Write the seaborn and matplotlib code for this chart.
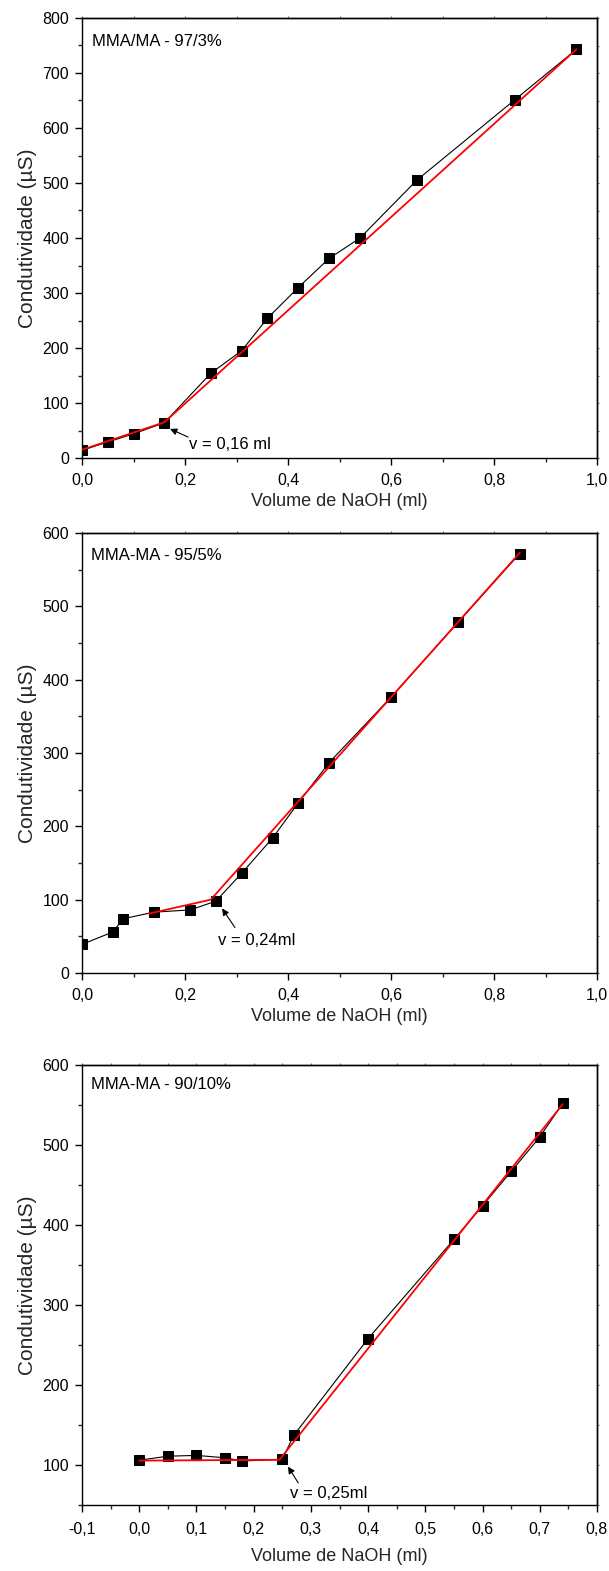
import matplotlib
matplotlib.use("Agg")
import matplotlib.pyplot as plt
import numpy as np
import pandas as pd
import seaborn as sns
from matplotlib.ticker import MultipleLocator, FuncFormatter

# ---------------- data ----------------
# Panel 1: MMA/MA - 97/3%
p1_x = [0.0, 0.05, 0.10, 0.16, 0.25, 0.31, 0.36, 0.42, 0.48, 0.54, 0.65, 0.84, 0.96]
p1_y = [14, 29, 44, 64, 154, 195, 254, 310, 363, 400, 505, 651, 743]
p1_fit_x = [0.0, 0.16, 0.96]
p1_fit_y = [15, 65, 743]

# Panel 2: MMA-MA - 95/5%
p2_x = [0.0, 0.06, 0.08, 0.14, 0.21, 0.26, 0.31, 0.37, 0.42, 0.48, 0.60, 0.73, 0.85]
p2_y = [39, 56, 74, 83, 86, 98, 136, 184, 232, 287, 376, 478, 572]
p2_fit_x = [0.13, 0.25, 0.85]
p2_fit_y = [81, 100, 573]

# Panel 3: MMA-MA - 90/10%
p3_x = [0.0, 0.05, 0.10, 0.15, 0.18, 0.25, 0.27, 0.40, 0.55, 0.60, 0.65, 0.70, 0.74]
p3_y = [106, 111, 112, 109, 105, 107, 137, 258, 382, 424, 467, 510, 552]
p3_fit_x = [0.0, 0.245, 0.74]
p3_fit_y = [105.5, 106.5, 551]

titles = ["MMA/MA - 97/3%", "MMA-MA - 95/5%", "MMA-MA - 90/10%"]
notes = ["v = 0,16 ml", "v = 0,24ml", "v = 0,25ml"]
xlabel = "Volume de NaOH (ml)"
ylabel = "Condutividade (µS)"

# ---------------- style ----------------
sns.set_style("ticks")
plt.rcParams["font.family"] = ["Liberation Sans", "DejaVu Sans"]
plt.rcParams["axes.linewidth"] = 1.0

W, H = 609, 1571
fig = plt.figure(figsize=(W / 100, H / 100), dpi=100)

left_px, right_px = 82, 597
panels = [
    dict(x=p1_x, y=p1_y, fx=p1_fit_x, fy=p1_fit_y, top=18, bot=458,
         xlim=(0, 1.0), xmaj=0.2, xmin=0.1, ylim=(0, 800), ymaj=100, ymin=50,
         title=titles[0], tpos=(0.019, 757), note=notes[0], npos=(0.208, 24),
         atail=(0.206, 38), ahead=(0.171, 53), xl_y=-0.0795, xpad=5.5),
    dict(x=p2_x, y=p2_y, fx=p2_fit_x, fy=p2_fit_y, top=533, bot=973,
         xlim=(0, 1.0), xmaj=0.2, xmin=0.1, ylim=(0, 600), ymaj=100, ymin=50,
         title=titles[1], tpos=(0.017, 570), note=notes[1], npos=(0.264, 44),
         atail=(0.297, 62), ahead=(0.272, 88), xl_y=-0.0795, xpad=5.5),
    dict(x=p3_x, y=p3_y, fx=p3_fit_x, fy=p3_fit_y, top=1065, bot=1505,
         xlim=(-0.1, 0.8), xmaj=0.1, xmin=0.05, ylim=(50, 600), ymaj=100, ymin=50,
         title=titles[2], tpos=(-0.085, 576), note=notes[2], npos=(0.263, 64),
         atail=(0.278, 77.5), ahead=(0.26, 98), xl_y=-0.0977, xpad=7.0),
]


def comma_fmt(v, pos):
    if abs(v) < 1e-9:
        v = 0.0
    return f"{v:.1f}".replace(".", ",")


for p in panels:
    ax = fig.add_axes([left_px / W, 1 - p["bot"] / H,
                       (right_px - left_px) / W, (p["bot"] - p["top"]) / H])
    df = pd.DataFrame({"x": p["x"], "y": p["y"]})
    fit = pd.DataFrame({"x": p["fx"], "y": p["fy"]})
    sns.lineplot(data=df, x="x", y="y", ax=ax, sort=False, estimator=None,
                 color="black", linewidth=0.8, marker="s", markersize=7,
                 markeredgecolor="black", markerfacecolor="black", zorder=3)
    sns.lineplot(data=fit, x="x", y="y", ax=ax, sort=False, estimator=None,
                 color="#ff0000", linewidth=1.3, zorder=4)

    ax.set_xlim(*p["xlim"])
    ax.set_ylim(*p["ylim"])
    ax.xaxis.set_major_locator(MultipleLocator(p["xmaj"]))
    ax.xaxis.set_minor_locator(MultipleLocator(p["xmin"]))
    ax.yaxis.set_major_locator(MultipleLocator(p["ymaj"]))
    ax.yaxis.set_minor_locator(MultipleLocator(p["ymin"]))
    ax.xaxis.set_major_formatter(FuncFormatter(comma_fmt))
    ax.yaxis.set_major_formatter(FuncFormatter(lambda v, pos: f"{int(round(v))}"))

    ax.tick_params(axis="both", which="major", direction="out", length=5,
                   width=1.0, labelsize=11.5, colors="black")
    ax.tick_params(axis="both", which="minor", direction="out", length=2.9,
                   width=1.0)
    ax.tick_params(axis="x", which="major", pad=p["xpad"])
    ax.tick_params(axis="y", which="major", pad=4.3)
    for s in ax.spines.values():
        s.set_visible(True)
        s.set_color("black")
        s.set_linewidth(1.0)

    # faint ticks on right and top axes
    sec_y = ax.secondary_yaxis("right")
    sec_y.yaxis.set_major_locator(MultipleLocator(p["ymin"]))
    sec_y.tick_params(length=1.5, width=0.8, colors="#777777", labelright=False)
    sec_y.spines["right"].set_color("black")
    sec_x = ax.secondary_xaxis("top")
    sec_x.xaxis.set_major_locator(MultipleLocator(p["xmin"]))
    sec_x.tick_params(length=1.5, width=0.8, colors="#777777", labeltop=False)
    sec_x.spines["top"].set_color("black")

    ax.set_xlabel(xlabel, fontsize=13)
    ax.xaxis.set_label_coords(0.5, p["xl_y"])
    ax.set_ylabel(ylabel, fontsize=15)
    ax.yaxis.set_label_coords(-0.088, 0.5)

    ax.text(p["tpos"][0], p["tpos"][1], p["title"], fontsize=12,
            ha="left", va="center", color="black")
    ax.text(p["npos"][0], p["npos"][1], p["note"], fontsize=12,
            ha="left", va="center", color="black")
    ax.annotate("", xy=p["ahead"], xytext=p["atail"],
                arrowprops=dict(arrowstyle="-|>", color="black", lw=0.8,
                                mutation_scale=10, shrinkA=0, shrinkB=0))

fig.savefig("out.png", dpi=100)
